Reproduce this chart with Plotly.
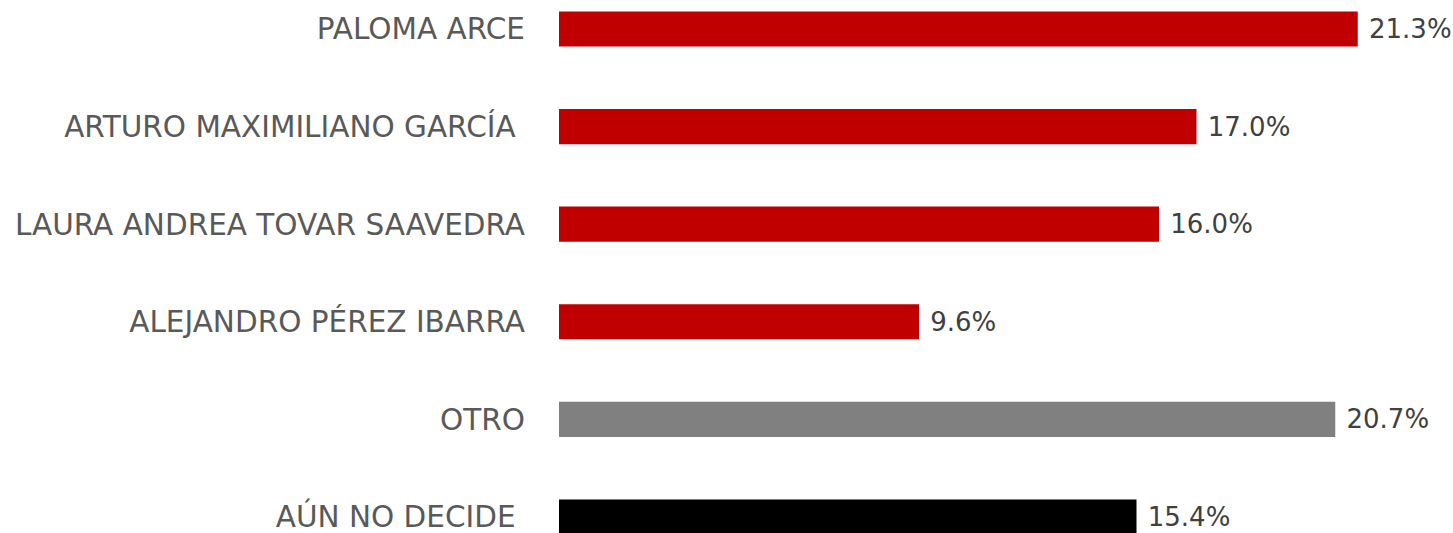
import plotly.graph_objects as go

categories = ["PALOMA ARCE", "ARTURO MAXIMILIANO GARCÍA\u00a0", "LAURA ANDREA TOVAR SAAVEDRA",
              "ALEJANDRO PÉREZ IBARRA", "OTRO", "AÚN NO DECIDE\u00a0"]
values = [21.3, 17.0, 16.0, 9.6, 20.7, 15.4]
value_labels = ["21.3%", "17.0%", "16.0%", "9.6%", "20.7%", "15.4%"]
colors = ["#C00000", "#C00000", "#C00000", "#C00000", "#808080", "#000000"]

FONT = "DejaVu Sans"

fig = go.Figure(go.Bar(
    y=categories, x=values, orientation="h",
    marker=dict(color=colors, line=dict(width=0)),
    text=["\u00a0" + t for t in value_labels], textposition="outside",
    textfont=dict(family=FONT, size=26, color="#404040"),
    cliponaxis=False, width=0.36,
))
fig.update_layout(
    width=1453, height=533,
    margin=dict(l=559, r=0, t=0, b=0),
    plot_bgcolor="white", paper_bgcolor="white",
    showlegend=False,
    xaxis=dict(range=[0, 23.84], visible=False),
    yaxis=dict(range=[5.164, -0.297], showgrid=False, zeroline=False, showline=False,
               ticks="", ticklabelstandoff=33,
               tickfont=dict(family=FONT, size=29.5, color="#595959")),
)
fig.write_html("out.html", config={"displayModeBar": False},
               post_script="document.body.style.margin='0';document.body.style.overflow='hidden';")
